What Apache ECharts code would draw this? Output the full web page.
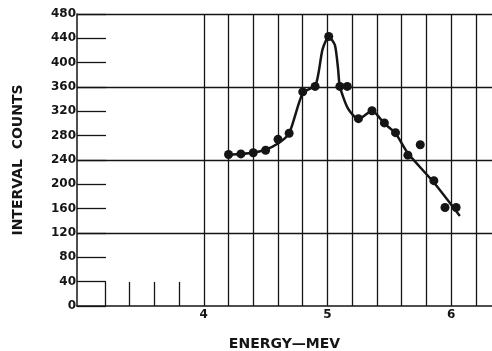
<!DOCTYPE html>
<html>
<head>
<meta charset="utf-8">
<script src="https://cdn.jsdelivr.net/npm/echarts@6/dist/echarts.min.js"></script>
<style>
html, body { margin: 0; padding: 0; background: #fff; }
#chart { width: 492px; height: 351px; }
</style>
</head>
<body>
<div id="chart"></div>
<script>
// measured points (energy in MeV, interval counts)
var energy = [4.20, 4.30, 4.40, 4.50, 4.60, 4.69, 4.80, 4.90, 5.01, 5.10, 5.16, 5.25, 5.36, 5.46, 5.55, 5.65, 5.75, 5.86, 5.95, 6.04];
var counts = [249, 250, 252, 256, 274, 284, 352, 361, 443, 361, 361, 308, 321, 301, 285, 248, 265, 206, 162, 162];

// hand drawn fit curve
var curveE = [4.20, 4.30, 4.40, 4.50, 4.60, 4.69, 4.80, 4.90, 4.93, 4.96, 5.01, 5.06, 5.085, 5.10, 5.165, 5.25, 5.36, 5.46, 5.55, 5.65, 5.86, 6.07];
var curveC = [249, 250, 252, 257, 267, 284, 350, 362, 386, 422, 443, 429, 391, 361, 325, 307, 321, 300, 284, 251, 203, 148];

// axis marks
var energyTicks = [3.2, 3.4, 3.6, 3.8];
var energyLabels = [4, 5, 6];
var gridE = [4.0, 4.2, 4.4, 4.6, 4.8, 5.0, 5.2, 5.4, 5.6, 5.8, 6.0, 6.2];
var gridCounts = [120, 240, 360, 480];

var ink = '#151515';
var font = 'DejaVu Sans';

var points = [];
for (var i = 0; i < energy.length; i++) {
    points.push([energy[i], counts[i]]);
}
var curve = [];
for (var j = 0; j < curveE.length; j++) {
    curve.push([curveE[j], curveC[j]]);
}
var lines = [];
for (var k = 0; k < gridE.length; k++) {
    lines.push({ xAxis: gridE[k] });
}
for (var m = 0; m < gridCounts.length; m++) {
    lines.push({ yAxis: gridCounts[m] });
}

var chart = echarts.init(document.getElementById('chart'), null, { renderer: 'canvas' });
var option = {
    backgroundColor: '#fff',
    animation: false,
    grid: { left: 77, top: 14, right: 0, bottom: 45, containLabel: false, outerBoundsMode: 'none' },
    xAxis: {
        type: 'value',
        min: 2.975,
        max: 6.33,
        name: 'ENERGY\u2014MEV',
        nameLocation: 'middle',
        nameGap: 31,
        nameTextStyle: { color: ink, fontFamily: font, fontWeight: 'bold', fontSize: 14 },
        axisLine: { lineStyle: { color: ink, width: 1.5 } },
        axisTick: { inside: true, length: 24, customValues: energyTicks, lineStyle: { color: ink, width: 1.3 } },
        splitLine: { show: false },
        axisLabel: {
            color: ink, fontFamily: font, fontWeight: 'bold', fontSize: 12, margin: 3,
            customValues: energyLabels
        }
    },
    yAxis: {
        type: 'value',
        min: 0,
        max: 480,
        interval: 40,
        name: 'INTERVAL  COUNTS',
        nameLocation: 'middle',
        nameGap: 52,
        nameTextStyle: { color: ink, fontFamily: font, fontWeight: 'bold', fontSize: 14 },
        axisLine: { lineStyle: { color: ink, width: 1.5 } },
        axisTick: { inside: true, length: 29, lineStyle: { color: ink, width: 1.3 } },
        splitLine: { show: false },
        axisLabel: { color: ink, fontFamily: font, fontWeight: 'bold', fontSize: 12, margin: 1 }
    },
    series: [{
        type: 'line',
        data: curve,
        smooth: 0.22,
        showSymbol: false,
        lineStyle: { color: ink, width: 2.5 },
        z: 3,
        markLine: {
            silent: true,
            symbol: 'none',
            label: { show: false },
            lineStyle: { color: ink, width: 1.3, type: 'solid' },
            data: lines
        }
    }, {
        type: 'scatter',
        data: points,
        symbol: 'circle',
        symbolSize: 9,
        itemStyle: { color: ink, opacity: 1 },
        z: 4
    }]
};
chart.setOption(option);
</script>
</body>
</html>
